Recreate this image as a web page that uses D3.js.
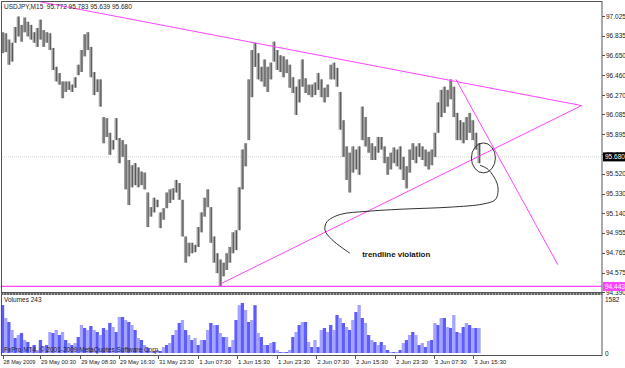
<!DOCTYPE html>
<html>
<head>
<meta charset="utf-8">
<script src="https://cdn.jsdelivr.net/npm/d3@7"></script>
<style>
  body { margin: 0; background: #fff; }
  text { font-family: "Liberation Sans", Arial, sans-serif; }
</style>
</head>
<body>
<svg id="chart" width="625" height="368"></svg>
<script>
// USDJPY M15, one entry per chart column (high / low / volume)
const highs = [96.87,96.86,96.80,96.77,96.92,97.02,96.94,97.01,96.97,96.94,
  96.87,96.91,96.99,96.89,96.87,96.86,96.72,96.54,96.48,96.40,
  96.40,96.40,96.37,96.44,96.56,96.70,96.85,96.87,96.73,96.49,
  96.42,96.42,96.06,96.05,95.91,95.84,96.05,95.86,95.84,95.80,
  95.65,95.60,95.62,95.58,95.54,95.53,95.34,95.20,95.29,95.27,
  95.15,95.19,95.34,95.37,95.38,95.46,95.43,95.27,94.92,94.86,
  94.86,94.84,95.01,95.15,95.29,95.37,95.20,94.92,94.76,94.70,
  94.67,94.76,94.82,94.96,94.98,95.39,95.75,95.81,96.42,96.70,
  96.77,96.67,96.54,96.61,96.54,96.58,96.78,96.70,96.65,96.64,
  96.61,96.56,96.44,96.35,96.42,96.61,96.43,96.37,96.37,96.39,
  96.48,96.42,96.34,96.37,96.56,96.58,96.53,96.30,96.03,95.78,
  95.72,95.78,95.75,95.78,96.16,96.06,95.87,95.81,95.78,95.87,
  95.87,95.78,95.68,95.72,95.77,95.75,95.78,95.68,95.59,95.75,
  95.81,95.78,95.81,95.78,95.75,95.73,95.75,95.91,96.20,96.32,
  96.35,96.32,96.42,96.35,96.10,96.03,96.01,96.06,96.10,96.03,
  95.91,95.81];
const lows = [96.67,96.68,96.56,96.59,96.77,96.83,96.78,96.87,96.83,96.80,
  96.77,96.73,96.80,96.73,96.77,96.70,96.51,96.40,96.37,96.24,
  96.30,96.32,96.30,96.34,96.46,96.49,96.64,96.70,96.44,96.27,
  96.30,96.16,95.81,95.87,95.70,95.75,95.84,95.62,95.68,95.37,
  95.22,95.39,95.41,95.39,95.41,95.37,95.01,95.11,95.15,95.20,
  95.00,95.08,95.19,95.24,95.27,95.34,95.27,94.92,94.67,94.73,
  94.76,94.77,94.82,94.96,95.11,95.20,94.86,94.67,94.57,94.44,
  94.54,94.60,94.67,94.76,94.79,94.98,95.37,95.59,95.84,96.25,
  96.54,96.42,96.40,96.35,96.30,96.42,96.59,96.51,96.49,96.44,
  96.48,96.34,96.29,96.08,96.20,96.35,96.29,96.27,96.25,96.27,
  96.32,96.25,96.20,96.25,96.42,96.42,96.35,95.94,95.68,95.46,
  95.34,95.53,95.56,95.51,95.84,95.78,95.72,95.65,95.65,95.72,
  95.75,95.62,95.51,95.56,95.62,95.59,95.56,95.46,95.38,95.53,
  95.65,95.62,95.68,95.65,95.59,95.56,95.60,95.68,95.91,96.06,
  96.10,96.16,96.23,96.06,95.84,95.84,95.81,95.84,95.91,95.84,
  95.75,95.62];
const volumes = [1406,1025,908,674,440,527,586,381,322,147,
  234,88,381,205,234,615,586,674,527,615,
  381,293,234,293,469,820,733,674,791,674,
  615,527,733,674,879,762,615,1055,1055,967,
  908,820,674,440,381,234,147,29,59,88,
  59,176,234,293,527,674,879,967,674,527,
  381,440,234,381,381,674,879,820,820,586,
  469,469,176,381,967,1400,1465,1260,908,967,
  1400,586,469,234,234,293,322,88,29,29,
  29,88,469,615,820,908,908,322,176,381,
  176,674,733,615,820,674,1113,1025,879,762,
  674,967,1201,1406,1025,879,527,381,322,234,
  322,234,88,29,29,29,88,293,381,527,
  615,527,234,293,176,352,381,879,820,1025,
  1025,762,733,1113,615,586,762,879,820,733,
  733,733];

const priceTicks = [97.025,96.835,96.650,96.460,96.270,96.085,95.895,95.705,95.520,95.330,95.140,94.955,94.765,94.575,94.390];
const timeLabels = ["28 May 2009","29 May 00:30","29 May 08:30","29 May 16:30","31 May 23:30","1 Jun 07:30",
  "1 Jun 15:30","1 Jun 23:30","2 Jun 07:30","2 Jun 15:30","2 Jun 23:30","3 Jun 07:30","3 Jun 15:30"];
const timeTickCols = [0,11.9,24.6,36.9,49.3,62,74.3,87,99.4,111.7,124.4,136.7,149.2];

const lastPrice = 95.680;
const levelPrice = 94.443;
const volMax = 1582;
const title = "USDJPY,M15  95.772 95.783 95.639 95.680";

// drawn annotations, as [column, price]
const upperTrend = [[10.3, 97.17], [183.5, 96.17]];
const lowerTrend = [[68.6, 94.46], [183.5, 96.17]];
const steepTrend = [[143.7, 96.42], [176, 94.65]];
const circleAt = [152.4, 95.67];
const arrowPath = [[151.3,95.60],[153.9,95.56],[156.7,95.43],[157.0,95.34],[156.1,95.27],[152.3,95.23],
  [141.8,95.20],[126.0,95.18],[115.5,95.16],[107.0,95.13],[102.8,95.06],[102.2,94.98],[104.4,94.89],[110.1,94.76]];
const noteAt = [114, 94.72];

const svg = d3.select('#chart');
const magenta = '#ff44ff';

const x = d3.scaleLinear().domain([0, highs.length - 1]).range([2.5, 479]);
const y = d3.scaleLinear().domain([94.390, 97.025]).range([292, 16]);
const yVol = d3.scaleLinear().domain([0, volMax]).range([353, 299]);

svg.append('defs').append('clipPath').attr('id', 'mainClip')
  .append('rect').attr('x', 2).attr('y', 2).attr('width', 600).attr('height', 290);

// current price line
svg.append('line').attr('x1', 2).attr('x2', 602).attr('y1', y(lastPrice)).attr('y2', y(lastPrice))
  .attr('stroke', '#d4d4d4').attr('stroke-dasharray', '1,1');

// price bars
const cols = highs.map((h, i) => ({ i: i, h: h, l: lows[i], v: volumes[i] }));
svg.append('g').selectAll('rect').data(cols).join('rect')
  .attr('x', d => x(d.i) - 1.6).attr('width', 3.3)
  .attr('y', d => y(d.h)).attr('height', d => Math.max(1, y(d.l) - y(d.h)))
  .attr('fill', '#a3a3a3');
svg.append('g').selectAll('line').data(cols).join('line')
  .attr('x1', d => x(d.i) + 0.5).attr('x2', d => x(d.i) + 0.5)
  .attr('y1', d => y(d.h)).attr('y2', d => y(d.l))
  .attr('stroke', '#555').attr('stroke-width', 1);

// level line + trendlines
const lines = svg.append('g').attr('clip-path', 'url(#mainClip)');
lines.append('line').attr('x1', 2).attr('x2', 602).attr('y1', y(levelPrice)).attr('y2', y(levelPrice))
  .attr('stroke', magenta).attr('stroke-width', 1.2);
const seg = d3.line().x(d => x(d[0])).y(d => y(d[1]));
[upperTrend, lowerTrend, steepTrend].forEach(t => {
  lines.append('path').attr('d', seg(t)).attr('fill', 'none').attr('stroke', magenta).attr('stroke-width', 1);
});

// circle + arrow + note
svg.append('ellipse').attr('cx', x(circleAt[0])).attr('cy', y(circleAt[1])).attr('rx', 12).attr('ry', 15)
  .attr('fill', 'none').attr('stroke', '#333').attr('stroke-width', 1);
const curve = d3.line().x(d => x(d[0])).y(d => y(d[1])).curve(d3.curveCatmullRom);
svg.append('path').attr('d', curve(arrowPath)).attr('fill', 'none').attr('stroke', '#333').attr('stroke-width', 1);
svg.append('text').attr('x', x(noteAt[0])).attr('y', y(noteAt[1]))
  .attr('font-size', 7.5).attr('font-weight', 'bold').attr('fill', '#111')
  .attr('textLength', 68).attr('lengthAdjust', 'spacingAndGlyphs')
  .text('trendline violation');

// volumes
svg.append('g').selectAll('rect').data(cols).join('rect')
  .attr('x', d => x(d.i) - 1.6).attr('width', 3.3)
  .attr('y', d => yVol(d.v)).attr('height', d => yVol(0) - yVol(d.v))
  .attr('fill', d => d.i % 2 ? '#a4a4ff' : '#5c5cff');

// frames
svg.append('rect').attr('x', 1.5).attr('y', 1.5).attr('width', 600.5).attr('height', 291)
  .attr('fill', 'none').attr('stroke', '#555');
svg.append('rect').attr('x', 1.5).attr('y', 294).attr('width', 600.5).attr('height', 61.5)
  .attr('fill', 'none').attr('stroke', '#555');
svg.append('line').attr('x1', 1).attr('x2', 602.5).attr('y1', 294).attr('y2', 294)
  .attr('stroke', '#666').attr('stroke-width', 2).attr('stroke-dasharray', '2,1');

// price axis
const pAxis = svg.append('g');
pAxis.selectAll('line').data(priceTicks).join('line')
  .attr('x1', 602).attr('x2', 605).attr('y1', d => Math.round(y(d)) + 0.5).attr('y2', d => Math.round(y(d)) + 0.5)
  .attr('stroke', '#555');
pAxis.selectAll('text').data(priceTicks).join('text')
  .attr('x', 606).attr('y', d => y(d) + 2.5).attr('font-size', 6.5).attr('fill', '#222')
  .text(d => d.toFixed(3));

function priceBox(val, bg) {
  svg.append('rect').attr('x', 603).attr('y', y(val) - 4.5).attr('width', 22).attr('height', 9).attr('fill', bg);
  svg.append('text').attr('x', 605).attr('y', y(val) + 2.5).attr('font-size', 6.5).attr('fill', '#fff')
    .text(val.toFixed(3));
}
priceBox(lastPrice, '#000');
priceBox(levelPrice, magenta);

// volume axis
svg.append('text').attr('x', 605).attr('y', yVol(volMax) + 2.5).attr('font-size', 6.5).attr('fill', '#222').text(volMax);
svg.append('text').attr('x', 605).attr('y', yVol(0) + 2.5).attr('font-size', 6.5).attr('fill', '#222').text('0');

// time axis
const tAxis = svg.append('g');
tAxis.selectAll('line').data(timeTickCols).join('line')
  .attr('x1', d => Math.round(x(d)) + 0.5).attr('x2', d => Math.round(x(d)) + 0.5)
  .attr('y1', 356).attr('y2', 359).attr('stroke', '#555');
tAxis.selectAll('text').data(timeLabels).join('text')
  .attr('x', (d, i) => x(timeTickCols[i]) + 1).attr('y', 364).attr('font-size', 6).attr('fill', '#222')
  .attr('textLength', d => d.length * 2.9).attr('lengthAdjust', 'spacingAndGlyphs')
  .text(d => d);

// captions
svg.append('text').attr('x', 4).attr('y', 9).attr('font-size', 6.5).attr('fill', '#222').attr('xml:space', 'preserve').text(title);
svg.append('text').attr('x', 4).attr('y', 302).attr('font-size', 6.5).attr('fill', '#222').text('Volumes 243');
svg.append('text').attr('x', 4).attr('y', 352).attr('font-size', 6.5).attr('fill', '#222')
  .text('FxPro MT4, \u00a9 2001-2009 MetaQuotes Software Corp.');
</script>
</body>
</html>
